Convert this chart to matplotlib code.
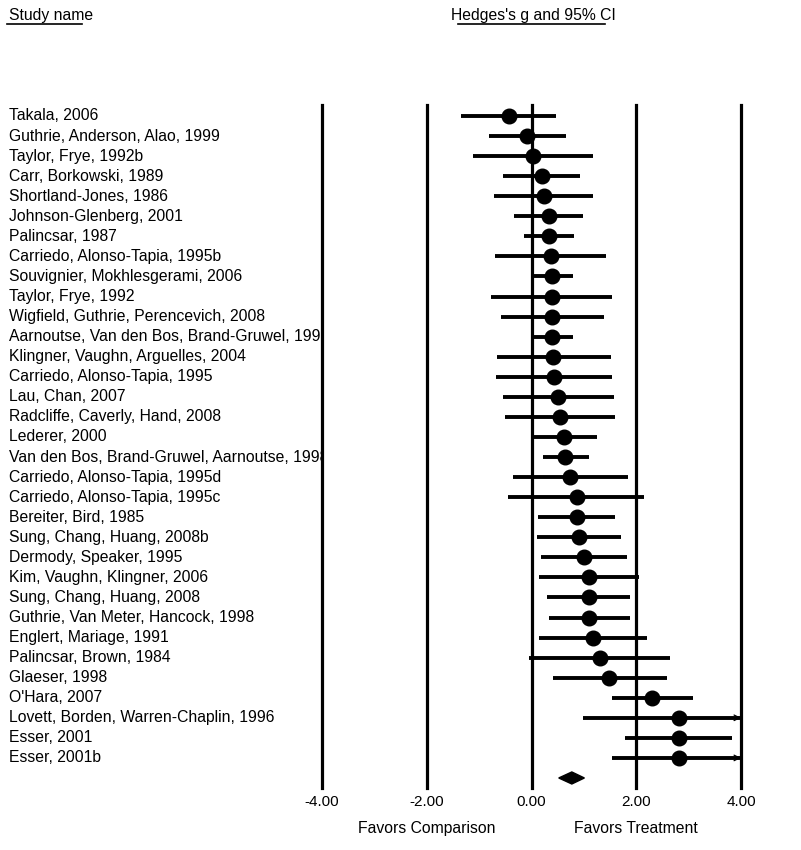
import numpy as np
import matplotlib
matplotlib.use("Agg")
import matplotlib.pyplot as plt
from matplotlib.patches import Polygon

plt.rcParams['font.family'] = ['Liberation Sans', 'DejaVu Sans']

# study data (Hedges's g and 95% CI)
studies = [
    "Takala, 2006",
    "Guthrie, Anderson, Alao, 1999",
    "Taylor, Frye, 1992b",
    "Carr, Borkowski, 1989",
    "Shortland-Jones, 1986",
    "Johnson-Glenberg, 2001",
    "Palincsar, 1987",
    "Carriedo, Alonso-Tapia, 1995b",
    "Souvignier, Mokhlesgerami, 2006",
    "Taylor, Frye, 1992",
    "Wigfield, Guthrie, Perencevich, 2008",
    "Aarnoutse, Van den Bos, Brand-Gruwel, 1998",
    "Klingner, Vaughn, Arguelles, 2004",
    "Carriedo, Alonso-Tapia, 1995",
    "Lau, Chan, 2007",
    "Radcliffe, Caverly, Hand, 2008",
    "Lederer, 2000",
    "Van den Bos, Brand-Gruwel, Aarnoutse, 1998",
    "Carriedo, Alonso-Tapia, 1995d",
    "Carriedo, Alonso-Tapia, 1995c",
    "Bereiter, Bird, 1985",
    "Sung, Chang, Huang, 2008b",
    "Dermody, Speaker, 1995",
    "Kim, Vaughn, Klingner, 2006",
    "Sung, Chang, Huang, 2008",
    "Guthrie, Van Meter, Hancock, 1998",
    "Englert, Mariage, 1991",
    "Palincsar, Brown, 1984",
    "Glaeser, 1998",
    "O'Hara, 2007",
    "Lovett, Borden, Warren-Chaplin, 1996",
    "Esser, 2001",
    "Esser, 2001b",
]
g = [-0.43, -0.08, 0.03, 0.20, 0.23, 0.33, 0.34, 0.38, 0.39, 0.39,
     0.40, 0.40, 0.42, 0.43, 0.51, 0.55, 0.63, 0.64, 0.74, 0.86,
     0.87, 0.90, 1.00, 1.10, 1.09, 1.10, 1.17, 1.30, 1.48, 2.30,
     2.81, 2.81, 2.81]
lower = [-1.35, -0.82, -1.12, -0.55, -0.72, -0.33, -0.15, -0.69, 0.00, -0.77,
         -0.58, 0.00, -0.66, -0.68, -0.55, -0.50, 0.00, 0.22, -0.36, -0.44,
         0.12, 0.11, 0.19, 0.15, 0.30, 0.34, 0.15, -0.04, 0.41, 1.53,
         0.98, 1.79, 1.53]
upper = [0.47, 0.66, 1.17, 0.93, 1.17, 0.99, 0.82, 1.43, 0.79, 1.54,
         1.38, 0.80, 1.51, 1.54, 1.58, 1.59, 1.26, 1.09, 1.84, 2.15,
         1.59, 1.70, 1.82, 2.05, 1.89, 1.88, 2.21, 2.65, 2.58, 3.09,
         4.64, 3.83, 4.09]
summary_g, summary_lo, summary_hi = 0.77, 0.52, 1.01
ticks = [-4, -2, 0, 2, 4]

W, H = 801, 850
FS = 11.3
fig = plt.figure(figsize=(W / 100, H / 100), dpi=100)

top_px, bot_px = 105, 788
row0_px, step_px = 116, 20.06
y_top = -(row0_px - top_px) / step_px
y_bot = (bot_px - row0_px) / step_px

x0_px, x1_px = 322, 741
ax = fig.add_axes([x0_px / W, 1 - bot_px / H, (x1_px - x0_px) / W, (bot_px - top_px) / H])
ax.set_xlim(-4, 4)
ax.set_ylim(y_bot, y_top)
ax.axis('off')

for t in ticks:
    ax.axvline(t, color='black', lw=2.3, clip_on=False, zorder=1)

n = len(studies)
rows = np.arange(n)
xmax = ticks[-1]
for i in rows:
    lo, hi = lower[i], upper[i]
    ax.plot([lo, min(hi, xmax)], [i, i], color='black', lw=2.8,
            solid_capstyle='butt', clip_on=False, zorder=2)
    if hi > xmax:
        # study CI runs off the scale: open arrow head at the edge
        ax.annotate('', xy=(xmax, i), xytext=(xmax - 0.3, i),
                    arrowprops=dict(arrowstyle='->', lw=0.9, color='black',
                                    mutation_scale=10, shrinkA=0, shrinkB=0),
                    zorder=3)
ax.plot(g, rows, 'o', color='black', ms=10.5, zorder=4, clip_on=False)

# summary diamond
ys = n
dh = 0.3
ax.add_patch(Polygon([(summary_lo, ys), (summary_g, ys - dh), (summary_hi, ys), (summary_g, ys + dh)],
                     closed=True, color='black', zorder=4, clip_on=False))

for t in ticks:
    fig.text(x0_px / W + (t + 4) / 8 * (x1_px - x0_px) / W, 1 - 806 / H, f"{t:.2f}",
             ha='center', va='baseline', fontsize=11)

fig.text((x0_px + (x1_px - x0_px) * 2 / 8) / W, 1 - 833 / H, "Favors Comparison",
         ha='center', va='baseline', fontsize=FS)
fig.text((x0_px + (x1_px - x0_px) * 6 / 8) / W, 1 - 833 / H, "Favors Treatment",
         ha='center', va='baseline', fontsize=FS)

# study labels, clipped at the -4 line
lab = fig.add_axes([9 / W, 1 - bot_px / H, (x0_px - 9) / W, (bot_px - top_px) / H])
lab.set_xlim(0, 1)
lab.set_ylim(y_bot, y_top)
lab.axis('off')
for i, s in enumerate(studies):
    lab.text(0, i, s, ha='left', va='center', fontsize=FS, clip_on=True)

# headers
fig.text(9 / W, 1 - 20 / H, "Study name", ha='left', va='baseline', fontsize=FS)
fig.add_artist(plt.Line2D([7 / W, 82 / W], [1 - 24 / H, 1 - 24 / H], color='black', lw=1.2))
fig.text(533 / W, 1 - 20 / H, "Hedges's g and 95% CI", ha='center', va='baseline', fontsize=FS)
fig.add_artist(plt.Line2D([458 / W, 605 / W], [1 - 24 / H, 1 - 24 / H], color='black', lw=1.2))

fig.savefig("out.png", dpi=100)
